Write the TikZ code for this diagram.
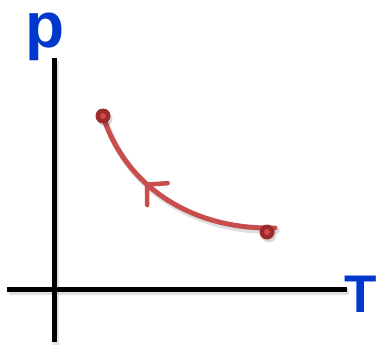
\documentclass[tikz,border=0pt]{standalone}
\usepackage{fontspec}
\setmainfont{Liberation Sans}
\usetikzlibrary{arrows.meta,decorations.markings}
\definecolor{axblue}{RGB}{0,55,205}
\definecolor{curvered}{RGB}{200,78,78}
\definecolor{dotred}{RGB}{155,42,42}
\definecolor{dotcore}{RGB}{205,75,75}
\tikzset{
  axis/.style={line width=5pt, black},
  axshadow/.style={line width=6pt, black, opacity=0.12},
  lbl/.style={inner sep=0pt, text=axblue, font=\bfseries},
  proc/.style={line width=5pt, curvered, line cap=round},
  procshadow/.style={line width=6pt, black, opacity=0.12, line cap=round},
  statedot/.style={circle, fill=dotred, minimum size=15pt, inner sep=0pt},
  dotcenter/.style={circle, fill=dotcore, minimum size=6pt, inner sep=0pt},
}
\begin{document}
\begin{tikzpicture}[x=1pt,y=-1pt]
\useasboundingbox (0,0) rectangle (376,346);
% axes
\coordinate (ytop) at (54,58);
\coordinate (ybot) at (54,342);
\coordinate (xl) at (7,289);
\coordinate (xr) at (347,289);
\draw[axshadow] ([shift={(2,3)}]ytop) -- ([shift={(2,3)}]ybot);
\draw[axshadow] ([shift={(2,3)}]xl) -- ([shift={(2,3)}]xr);
\draw[axis] (ytop) -- (ybot);
\draw[axis] (xl) -- (xr);
% labels
\node[lbl, anchor=base west, font=\fontsize{64}{64}\selectfont\bfseries] (plbl) at (25,47) {p};
\node[lbl, anchor=base west, font=\fontsize{53}{53}\selectfont\bfseries] (tlbl) at (344,312) {T};
% process curve
\coordinate (B) at (275,228);
\coordinate (A) at (103,116);
\draw[procshadow] ([shift={(2,3)}]B) .. controls ([shift={(2,3)}]190,230) and ([shift={(2,3)}]125,185) .. ([shift={(2,3)}]A);
\draw[proc, postaction={decorate}, decoration={markings,
   mark=at position 0.64 with {\arrow[line width=4.5pt, curvered]{Straight Barb[length=14pt,width=30pt,line cap=round]}}}]
  (B) .. controls (190,230) and (125,185) .. (A);
% state dots
\node[statedot, fill=black, opacity=0.15] at (105,119) {};
\node[statedot, fill=black, opacity=0.15] at (269,235) {};
\node[statedot] (s1) at (A) {};
\node[dotcenter] at (s1) {};
\node[statedot] (s2) at (267,232) {};
\node[dotcenter] at (s2) {};
\end{tikzpicture}
\end{document}
